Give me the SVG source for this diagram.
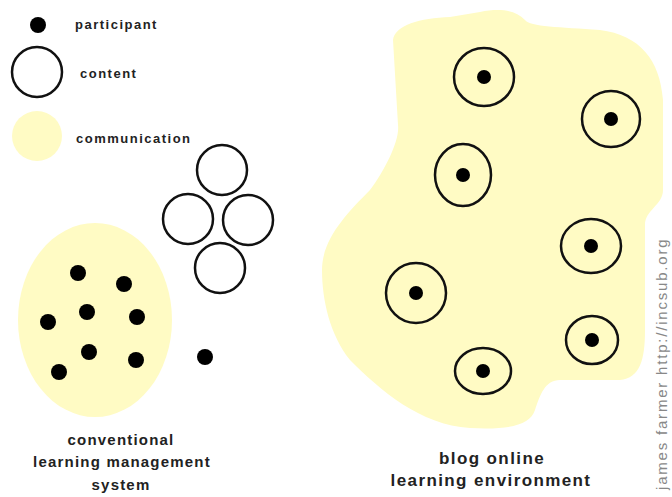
<svg xmlns="http://www.w3.org/2000/svg" width="672" height="497" viewBox="0 0 672 497">
<style>
.comm{fill:#fffbc4;stroke:none}
.content{fill:none;stroke:#111;stroke-width:2.5}
.dot{fill:#000}
.lbl{font-family:"Liberation Sans",Arial,sans-serif;font-weight:bold;fill:#222;font-size:13px;letter-spacing:1.5px}
.cap{font-family:"Liberation Sans",Arial,sans-serif;font-weight:bold;fill:#222;font-size:15px;letter-spacing:1.2px;text-anchor:middle}
.cap2{font-family:"Liberation Sans",Arial,sans-serif;font-weight:bold;fill:#222;font-size:17px;letter-spacing:1.4px;text-anchor:middle}
.credit{font-family:"Liberation Sans",Arial,sans-serif;fill:#888;font-size:15px;letter-spacing:1.8px}
</style>
<rect width="672" height="497" fill="#fff"/>
<g id="legend">
  <g id="legend-participant"><circle class="dot" cx="38" cy="25" r="8"/><text class="lbl" x="75" y="29">participant</text></g>
  <g id="legend-content"><circle class="content" cx="37" cy="72" r="25"/><text class="lbl" x="80" y="78">content</text></g>
  <g id="legend-communication"><circle class="comm" cx="37" cy="136" r="25"/><text class="lbl" x="76" y="143">communication</text></g>
</g>
<g id="lms">
  <ellipse class="comm" cx="95" cy="320" rx="77" ry="97"/>
  <circle class="dot" cx="78" cy="273" r="8"/>
  <circle class="dot" cx="124" cy="284" r="8"/>
  <circle class="dot" cx="87" cy="312" r="8"/>
  <circle class="dot" cx="48" cy="322" r="8"/>
  <circle class="dot" cx="137" cy="317" r="8"/>
  <circle class="dot" cx="89" cy="352" r="8"/>
  <circle class="dot" cx="136" cy="360" r="8"/>
  <circle class="dot" cx="59" cy="372" r="8"/>
  <circle class="dot" cx="205" cy="357" r="8"/>
  <circle class="content" cx="222" cy="170" r="25"/>
  <circle class="content" cx="188" cy="219" r="25"/>
  <circle class="content" cx="248" cy="220" r="25"/>
  <circle class="content" cx="220" cy="268" r="25"/>
  <text class="cap"><tspan x="121" y="445">conventional</tspan><tspan x="122" y="467">learning management</tspan><tspan x="121" y="490">system</tspan></text>
</g>
<g id="blog">
  <path class="comm" d="M393,40 C395,25 420,18 450,17 L480,12 C500,8 515,10 525,20 C530,27 560,27 600,30 C640,35 660,60 663,100 L663,190 C663,205 645,210 645,225 L645,330 C645,360 640,378 620,380 L560,380 C545,380 540,395 535,410 C530,425 510,430 470,428 C420,425 380,390 350,360 C330,335 322,300 322,270 C322,240 345,215 370,190 C385,170 400,140 398,125 Z"/>
  <g id="n1"><ellipse class="content" cx="484" cy="77" rx="30" ry="29"/><circle class="dot" cx="484" cy="77" r="7"/></g>
  <g id="n2"><ellipse class="content" cx="611" cy="119" rx="29" ry="28"/><circle class="dot" cx="611" cy="119" r="7"/></g>
  <g id="n3"><ellipse class="content" cx="463" cy="175" rx="28" ry="31"/><circle class="dot" cx="463" cy="175" r="7"/></g>
  <g id="n4"><ellipse class="content" cx="591" cy="246" rx="30" ry="27"/><circle class="dot" cx="591" cy="246" r="7"/></g>
  <g id="n5"><ellipse class="content" cx="416" cy="293" rx="30" ry="30"/><circle class="dot" cx="416" cy="293" r="7"/></g>
  <g id="n6"><ellipse class="content" cx="592" cy="340" rx="26" ry="24"/><circle class="dot" cx="592" cy="340" r="7"/></g>
  <g id="n7"><ellipse class="content" cx="483" cy="371" rx="28" ry="23"/><circle class="dot" cx="483" cy="371" r="7"/></g>
  <text class="cap2"><tspan x="492" y="464">blog online</tspan><tspan x="491" y="486">learning environment</tspan></text>
</g>
<text class="credit" transform="translate(667,490) rotate(-90)">james farmer http://incsub.org</text>
</svg>
